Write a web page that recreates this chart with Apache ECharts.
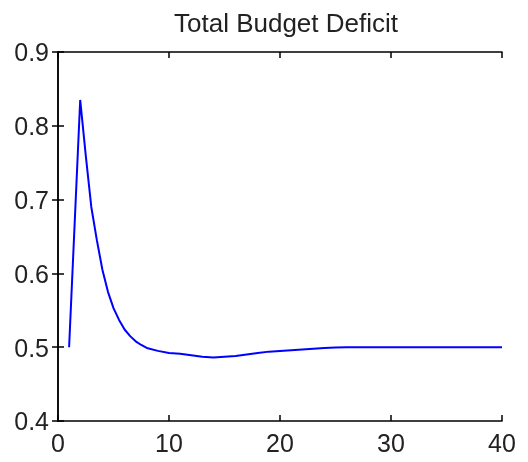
<!DOCTYPE html>
<html>
<head>
<meta charset="utf-8">
<script src="https://cdn.jsdelivr.net/npm/echarts@6/dist/echarts.min.js"></script>
<style>
html,body{margin:0;padding:0;background:#fff;}
#chart{width:528px;height:462px;}
</style>
</head>
<body>
<div id="chart"></div>
<script>
const titleText = "Total Budget Deficit";
const periods = [1,2,2.5,3,3.5,4,4.5,5,5.5,6,6.5,7,7.5,8,9,10,11,12,13,14,15,16,17,18,19,20,21,22,23,24,25,26,27,28,29,30,31,32,33,34,35,36,37,38,39,40];
const deficit = [0.500,0.835,0.760,0.690,0.645,0.605,0.575,0.553,0.537,0.524,0.515,0.508,0.503,0.499,0.495,0.492,
                 0.491,0.489,0.487,0.486,0.487,0.488,0.490,0.492,0.494,0.495,
                 0.496,0.497,0.498,0.499,0.4995,0.500,0.500,0.500,0.500,0.500,
                 0.500,0.500,0.500,0.500,0.500,0.500,0.500,0.500,0.500,0.500];
const xTicks = [0,10,20,30,40];
const yTicks = [0.4,0.5,0.6,0.7,0.8,0.9];

const FONT = '"Liberation Sans", Arial, sans-serif';
const axisCommon = {
  axisLine:{show:true,lineStyle:{color:'#000',width:1.5}},
  axisTick:{show:true,inside:true,length:6,lineStyle:{color:'#000',width:1.5}},
  splitLine:{show:false}
};
const chart = echarts.init(document.getElementById('chart'));
chart.setOption({
  animation:false,
  backgroundColor:'#fff',
  title:{text:titleText,left:281,top:7,textAlign:'center',
    textStyle:{fontFamily:FONT,fontSize:26,fontWeight:'normal',color:'#222'}},
  grid:{left:58,right:26,top:52,bottom:41,containLabel:false},
  xAxis:[
    Object.assign({type:'value',position:'bottom',min:xTicks[0],max:xTicks[xTicks.length-1],interval:10,
      axisLabel:{show:true,fontFamily:FONT,fontSize:25,color:'#222',margin:12}},axisCommon),
    Object.assign({type:'value',position:'top',min:xTicks[0],max:xTicks[xTicks.length-1],interval:10,
      axisLabel:{show:false}},axisCommon)
  ],
  yAxis:[
    Object.assign({type:'value',position:'left',min:yTicks[0],max:yTicks[yTicks.length-1],interval:0.1,
      axisLabel:{show:true,margin:9,
        formatter:v=>'{a|'+v.toFixed(1)+'}',
        rich:{a:{fontFamily:FONT,fontSize:25,color:'#222',padding:[5,0,0,0]}}}},axisCommon),
    Object.assign({type:'value',position:'right',min:yTicks[0],max:yTicks[yTicks.length-1],interval:0.1,
      axisLabel:{show:false}},axisCommon)
  ],
  series:[{
    type:'line',xAxisIndex:0,yAxisIndex:0,
    data:periods.map((p,i)=>[p,deficit[i]]),
    showSymbol:false,symbol:'none',smooth:false,
    lineStyle:{color:'#0000ff',width:2},
    itemStyle:{color:'#0000ff'}
  }]
});
</script>
</body>
</html>
